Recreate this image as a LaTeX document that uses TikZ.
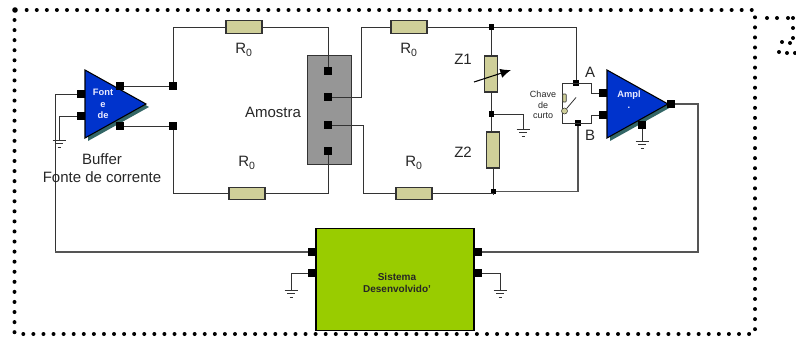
\documentclass[tikz,border=0pt]{standalone}
\usepackage{fontspec}
\setmainfont{Liberation Sans}
\usetikzlibrary{arrows.meta,calc}
\definecolor{tan}{HTML}{CFCF99}
\definecolor{wire}{HTML}{333333}
\definecolor{wiregrey}{HTML}{555555}
\definecolor{ampblue}{HTML}{0033CC}
\definecolor{shade}{HTML}{336666}
\definecolor{lime}{HTML}{99CC00}
\definecolor{sample}{HTML}{969696}
\tikzset{
  x=0.75pt,y=-0.75pt,
  wireline/.style={draw=wire,line width=0.75pt},
  wirethick/.style={draw=wiregrey,line width=1.05pt},
  termbig/.style={fill=black,inner sep=0pt,minimum size=6pt,draw=none},
  termsmall/.style={fill=black,inner sep=0pt,minimum size=3.9pt,draw=none},
  reshoriz/.style={draw=wire,fill=tan,line width=0.8pt,minimum width=27pt,minimum height=9.5pt,inner sep=0pt},
  resvert/.style={draw=wire,fill=tan,line width=0.8pt,minimum width=9.5pt,minimum height=27pt,inner sep=0pt},
  lab/.style={font=\fontsize{11.25pt}{13pt}\selectfont,text=black!85,inner sep=0pt,align=center},
  tiny/.style={font=\fontsize{6.75pt}{8pt}\selectfont,text=black!85,inner sep=0pt,align=center},
  amptext/.style={font=\fontsize{7pt}{8.4pt}\selectfont\bfseries,text=white!92!blue,inner sep=0pt,align=center},
  tri/.style={draw=black,fill=ampblue,line width=0.8pt},
  trishadow/.style={fill=shade,draw=none},
  groundline/.style={draw=wire,line width=0.7pt},
  ground/.pic={
    \draw[groundline] (-6.5,0)--(6.5,0) (-4,3.5)--(4,3.5) (-1.5,7)--(1.5,7);
  }
}
\newcommand{\framedot}[2]{\fill[black] (#1,#2) circle (1.5pt);}
\begin{document}
\begin{tikzpicture}
\useasboundingbox (0,0) rectangle (796,339);
% dotted frame
\fill[black] (15,10) circle (2.1pt);
\foreach \i in {0,...,72}{\framedot{26.7+10.07*\i}{10}}
\foreach \i in {0,...,31}{\framedot{14.5}{20+10.07*\i}}
\foreach \i in {0,...,72}{\framedot{23.3+10.08*\i}{334}}
\foreach \i in {0,...,31}{\framedot{755}{17.3+10.06*\i}}
\foreach \px/\py in {767/18,777/18,788/18,793/18,793/28,793/38,782/42,790/43,779/52,787/53,795/53}{
  \framedot{\px}{\py}
}
% triangles
\fill[trishadow] (88,73) -- (149,107) -- (88,141) -- cycle;
\draw[tri] (85,70) -- (146,104) -- (85,138) -- cycle;
\fill[trishadow] (610,73) -- (671,107) -- (610,141) -- cycle;
\draw[tri] (607,70) -- (668,104) -- (607,138) -- cycle;
% sample and block
\node[draw=wire,fill=sample,line width=0.7pt,minimum width=33pt,minimum height=81.75pt,inner sep=0pt] (amostra) at (329,109.5) {};
\node[draw=black,fill=lime,line width=0.9pt,minimum width=118.5pt,minimum height=77pt,inner sep=0pt] (sistema) at (395,279.5) {};
\node[align=center,inner sep=0pt,font=\fontsize{7.5pt}{9pt}\selectfont\bfseries,text=black!85] (sistemalab) at (397,282.5) {Sistema\\Desenvolvido'};
% terminals
\node[termbig] (fa) at (120,86) {};
\node[termbig] (fb) at (120,126) {};
\node[termbig] (fc) at (81,94) {};
\node[termbig] (fd) at (81,116) {};
\node[termbig] (ja) at (173,86) {};
\node[termbig] (jb) at (173,126) {};
\node[termbig] (s1) at (328,71) {};
\node[termbig] (s2) at (328,97) {};
\node[termbig] (s3) at (328,125) {};
\node[termbig] (s4) at (328,151) {};
\node[termsmall] (n1) at (491.5,27) {};
\node[termsmall] (n2) at (491.5,114) {};
\node[termsmall] (n3) at (493.5,191.5) {};
\node[termsmall] (na) at (576,83) {};
\node[termsmall] (nb) at (578,123) {};
\node[termbig] (ia) at (603,93) {};
\node[termbig] (ib) at (603,115) {};
\node[termbig] (io) at (671,104) {};
\node[termbig] (ig) at (642,125) {};
\node[termbig] (l1) at (312,252) {};
\node[termbig] (l2) at (312,273) {};
\node[termbig] (r1) at (478,252) {};
\node[termbig] (r2) at (478,273) {};
% resistors
\node[reshoriz] (r0a) at (244,27) {};
\node[reshoriz] (r0b) at (247,193.5) {};
\node[reshoriz] (r0c) at (409,27) {};
\node[reshoriz] (r0d) at (414,193.5) {};
\node[resvert] (z1) at (491,74) {};
\node[resvert] (z2) at (493,150) {};
% ground anchors
\coordinate (g0) at (59,140);
\coordinate (g1) at (523,129);
\coordinate (g2) at (642,141);
\coordinate (g3) at (291,290);
\coordinate (g4) at (500,290);
\foreach \g in {g0,g1,g2,g3,g4}{\pic at (\g) {ground};}
% wires
\coordinate (lc) at (55,252);
\draw[wireline] (fa) -- (ja) (ja) |- (r0a.west);
\draw[wireline] (fb) -- (jb) (jb) |- (r0b.west);
\draw[wireline] (r0a.east) -| (s1);
\draw[wireline] (r0b.east) -| (s4);
\draw[wireline] (s2) -| (361,27) -- (r0c.west);
\draw[wireline] (s3) -| (363,193.5) -- (r0d.west);
\draw[wireline] (r0c.east) -- (n1);
\draw[wireline] (r0d.east) -| (n3);
\draw[wireline] (n1) -- (n1 |- z1.north);
\draw[wireline] (n2 |- z1.south) -- (n2);
\draw[wireline] (n2) -- (n2 |- z2.north);
\draw[wireline] (z2.south -| n3) -- (n3);
\draw[wireline] (n2) -| (g1);
\draw[wireline] (n1) -| (na);
\draw[wirethick] (n3) -| (nb);
\draw[wireline] (fc) -| (lc);
\draw[wirethick] (lc) -- (l1);
\draw[wireline] (fd) -| (g0);
\draw[wirethick] (io) -| (698,252) -- (r1);
\draw[wireline] (ig) -- (g2);
\draw[wireline] (l2) -| (g3);
\draw[wireline] (r2) -| (g4);
% switch
\draw[wireline] (ia) -| (591,83) -- (562,83) -- (562,123) -- (591,123) |- (ib);
\node[draw=wire,fill=tan,line width=0.4pt,minimum width=2.6pt,minimum height=6pt,inner sep=0pt,rounded corners=0.5pt] (sw1) at (564.5,98) {};
\node[draw=wire,fill=tan,line width=0.4pt,circle,minimum size=4.5pt,inner sep=0pt] (sw2) at (564.5,111) {};
\draw[draw=wire,line width=0.6pt] (sw2) -- (576,97.5);
% variable arrow
\draw[draw=black,line width=0.8pt,-{Latex[length=8pt,width=7pt]}] (474,82) -- (511,70);
% labels
\node[lab] at (244,50) {R\textsubscript{0}};
\node[lab] at (247,163) {R\textsubscript{0}};
\node[lab] at (409,50) {R\textsubscript{0}};
\node[lab] at (414,163) {R\textsubscript{0}};
\node[lab] at (273,112) {Amostra};
\node[lab] at (102,168) {Buffer\\Fonte de corrente};
\node[lab] at (463,59) {Z1};
\node[lab] at (463,152) {Z2};
\node[lab] at (590,72) {A};
\node[lab] at (590,135) {B};
\node[tiny] at (543,105) {Chave\\de\\curto};
\node[amptext] at (103,104) {Font\\e\\de};
\node[amptext] at (629,100) {Ampl\\.};
\end{tikzpicture}
\end{document}
